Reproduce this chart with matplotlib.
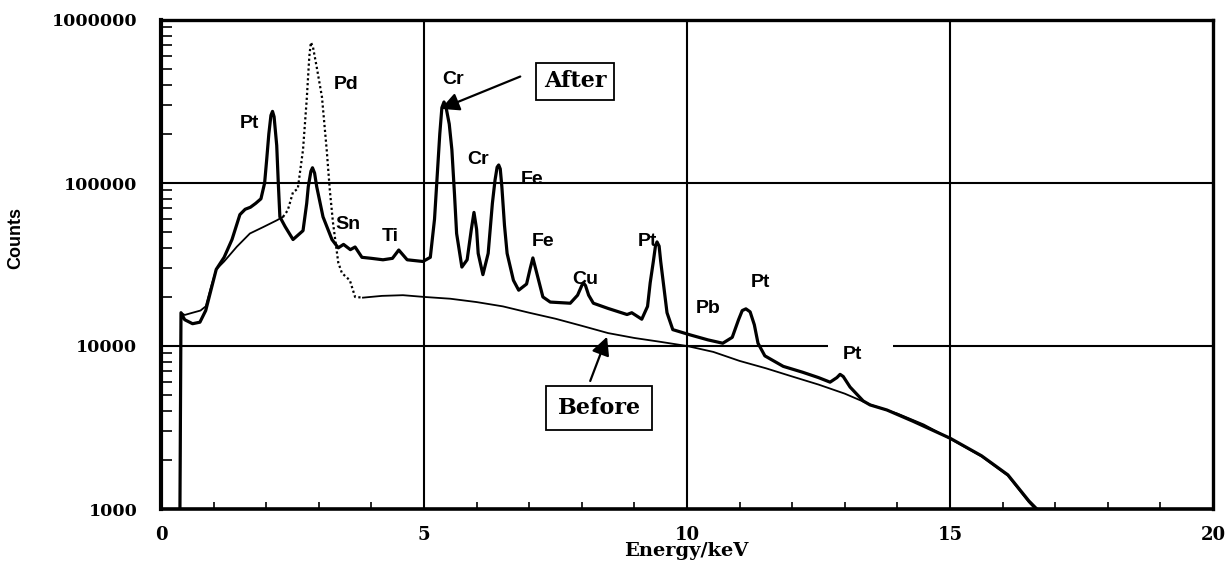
import matplotlib
matplotlib.use("Agg")
import matplotlib.pyplot as plt
import numpy as np
from matplotlib.ticker import FixedLocator, NullFormatter

# ---- data (energy in keV, counts) ----
after_energy = [0.36, 0.38, 0.45, 0.60, 0.74, 0.85, 0.95, 1.05, 1.20, 1.35, 1.50, 1.60,
                1.70, 1.80, 1.90, 1.97, 2.01, 2.05, 2.09, 2.12, 2.15, 2.20, 2.23, 2.26,
                2.36, 2.51, 2.70, 2.77, 2.80, 2.85, 2.88, 2.92, 2.96, 3.08, 3.25, 3.37,
                3.47, 3.60, 3.69, 3.82, 4.00, 4.22, 4.40, 4.52, 4.68, 4.98, 5.12, 5.20,
                5.25, 5.30, 5.34, 5.38, 5.42, 5.48, 5.53, 5.58, 5.62, 5.72, 5.82, 5.90,
                5.95, 6.00, 6.03, 6.12, 6.22, 6.30, 6.35, 6.39, 6.42, 6.45, 6.48, 6.53,
                6.58, 6.70, 6.80, 6.95, 7.02, 7.07, 7.12, 7.26, 7.40, 7.78, 7.92, 8.00,
                8.03, 8.07, 8.13, 8.22, 8.50, 8.86, 8.95, 9.14, 9.25, 9.30, 9.36, 9.40,
                9.43, 9.47, 9.50, 9.55, 9.62, 9.73, 10.06, 10.40, 10.68, 10.86, 10.98,
                11.05, 11.12, 11.20, 11.28, 11.35, 11.48, 11.83, 12.20, 12.50, 12.72,
                12.85, 12.91, 12.97, 13.10, 13.35, 13.48, 13.80, 14.30, 15.00, 15.60,
                16.10, 16.50, 16.65]
after_counts = [1000, 16000, 14500, 13700, 14000, 16500, 22000, 29500, 35000, 45000, 64000, 69000,
                71000, 75000, 80000, 100000, 140000, 200000, 260000, 275000, 255000, 170000, 100000, 62000,
                54000, 45000, 51000, 75000, 95000, 118000, 124000, 115000, 95000, 62000, 45000, 40000,
                42000, 39000, 40500, 35000, 34500, 33800, 34500, 38800, 33800, 33000, 35000, 60000,
                110000, 200000, 290000, 314000, 290000, 230000, 160000, 85000, 49000, 30500, 33800, 52000,
                66000, 52000, 37000, 27400, 37000, 75000, 104000, 125000, 129000, 122000, 95000, 55000,
                37000, 25300, 22000, 24000, 30000, 34700, 30000, 20000, 18600, 18300, 20500, 23500,
                24400, 23500, 20500, 18300, 17000, 15600, 16000, 14600, 17500, 24400, 33000, 41000,
                43500, 41000, 33000, 24400, 16000, 12600, 11700, 10900, 10400, 11300, 14500,
                16500, 16900, 16200, 13500, 10400, 8700, 7500, 6900, 6400, 6000,
                6400, 6700, 6500, 5600, 4600, 4350, 4050, 3450, 2720, 2120,
                1620, 1120, 1000]

before_energy = [0.36, 0.38, 0.45, 0.60, 0.75, 0.85, 0.95, 1.05, 1.20, 1.44, 1.69, 1.94,
                 2.20, 2.32, 2.41, 2.51, 2.60, 2.70, 2.77, 2.82, 2.85, 2.89, 2.96, 3.06,
                 3.15, 3.21, 3.27, 3.37, 3.44, 3.59, 3.69, 3.84, 4.20, 4.60, 5.00, 5.50,
                 6.00, 6.50, 7.00, 7.50, 8.00, 8.50, 9.00, 9.50, 10.00, 10.50, 11.00, 11.50,
                 12.00, 12.50, 13.00, 13.50, 14.00, 14.50, 15.00, 15.60, 16.10, 16.50, 16.62]
before_counts = [1000, 16000, 15500, 16000, 16500, 17500, 23000, 29500, 33000, 40600, 49000, 53600,
                 59000, 62000, 68000, 88000, 92000, 160000, 324000, 600000, 730000, 680000, 515000, 337000,
                 160000, 90000, 57000, 32500, 28000, 25300, 20000, 19800, 20300, 20500, 20000, 19500,
                 18600, 17500, 16000, 14700, 13300, 12000, 11200, 10600, 10000, 9200, 8100, 7300,
                 6500, 5800, 5100, 4350, 3850, 3300, 2700, 2100, 1600, 1100, 1000]
before_dotted_range = (2.32, 3.84)   # Pd region drawn dotted

peak_labels = ["Pt", "Pd", "Cr", "Cr", "Fe", "Fe", "Sn", "Ti", "Cu", "Pt", "Pb", "Pt", "Pt"]
peak_label_x = [1.69, 3.52, 5.55, 6.03, 7.05, 7.27, 3.56, 4.36, 8.06, 9.24, 10.40, 11.39, 13.14]
peak_label_y = [232000, 400000, 430000, 140000, 105000, 44000, 56000, 47000, 25500, 44000, 17000, 24500, 8900]

x_ticks = [0, 5, 10, 15, 20]
y_ticks = [1000, 10000, 100000, 1000000]
y_ticklabels = ["1000", "10000", "100000", "1000000"]

# ---- figure ----
W, H = 1230, 569
fig = plt.figure(figsize=(W / 100, H / 100), dpi=100)
ax = fig.add_axes([161 / W, 1 - 509 / H, (1213 - 161) / W, (509 - 20) / H])
ax.set_yscale("log")
ax.set_xlim(0, 20)
ax.set_ylim(1000, 1000000)

# grid (manual, with the gap behind the last "Pt" label)
for gx in [5, 10, 15]:
    ax.axvline(gx, color="black", lw=1.5, zorder=1)
ax.axhline(100000, color="black", lw=1.5, zorder=1)
ax.hlines(10000, 0, 12.68, color="black", lw=1.5, zorder=1)
ax.hlines(10000, 13.92, 20, color="black", lw=1.5, zorder=1)

ae = np.array(after_energy)
ac = np.array(after_counts)
be = np.array(before_energy)
bc = np.array(before_counts)

ax.plot(ae, ac, color="black", lw=2.3, zorder=3, solid_joinstyle="round")
lo, hi = before_dotted_range
m1 = be <= lo
m2 = (be >= lo) & (be <= hi)
m3 = be >= hi
ax.plot(be[m1], bc[m1], color="black", lw=1.3, zorder=2)
ax.plot(be[m2], bc[m2], color="black", lw=1.6, ls=(0, (1, 1.2)), zorder=2)
ax.plot(be[m3], bc[m3], color="black", lw=1.3, zorder=2)

for t, x, y in zip(peak_labels, peak_label_x, peak_label_y):
    ax.text(x, y, t, fontsize=14, fontweight="bold", family="Liberation Sans",
            ha="center", va="center", zorder=4)

# boxed labels with arrows
ax.text(7.87, 420000, "After", fontsize=16, fontweight="bold", family="DejaVu Serif",
        ha="center", va="center",
        bbox=dict(boxstyle="square,pad=0.35", fc="white", ec="black", lw=1.3), zorder=5)
ax.annotate("", xy=(5.32, 285000), xytext=(6.83, 450000),
            arrowprops=dict(arrowstyle="-|>,head_length=1.1,head_width=0.55",
                            color="black", lw=1.6, shrinkA=0, shrinkB=0), zorder=5)
ax.text(8.33, 4150, "Before", fontsize=16, fontweight="bold", family="DejaVu Serif",
        ha="center", va="center",
        bbox=dict(boxstyle="square,pad=0.5", fc="white", ec="black", lw=1.3), zorder=5)
ax.annotate("", xy=(8.48, 11400), xytext=(8.16, 6100),
            arrowprops=dict(arrowstyle="-|>,head_length=1.1,head_width=0.55",
                            color="black", lw=1.6, shrinkA=0, shrinkB=0), zorder=5)

# axes styling
for side, lw in [("left", 3.0), ("bottom", 2.6), ("top", 2.4), ("right", 2.4)]:
    ax.spines[side].set_linewidth(lw)

ax.xaxis.set_major_locator(FixedLocator(x_ticks))
ax.xaxis.set_minor_locator(FixedLocator([v for v in range(1, 20) if v % 5]))
ax.set_xticklabels([str(v) for v in x_ticks], fontsize=13, fontweight="bold", family="DejaVu Serif")
ax.yaxis.set_major_locator(FixedLocator(y_ticks))
ax.set_yticklabels(y_ticklabels, fontsize=12.5, fontweight="bold", family="DejaVu Serif")
ax.yaxis.set_minor_formatter(NullFormatter())
ax.tick_params(axis="x", which="major", direction="in", length=0, pad=12)
ax.tick_params(axis="x", which="minor", direction="in", length=5, width=1.2)
ax.tick_params(axis="y", which="major", direction="in", length=0, pad=17)
ax.tick_params(axis="y", which="minor", direction="in", length=8, width=1.2)

fig.text(686 / W, 1 - 551 / H, "Energy/keV", fontsize=14, fontweight="bold",
         family="DejaVu Serif", ha="center", va="center")
fig.text(16 / W, 1 - 238 / H, "Counts", fontsize=13, fontweight="bold", rotation=90,
         family=["Liberation Sans Narrow", "Liberation Sans"], ha="center", va="center")

fig.savefig("out.png", dpi=100, facecolor="white")
